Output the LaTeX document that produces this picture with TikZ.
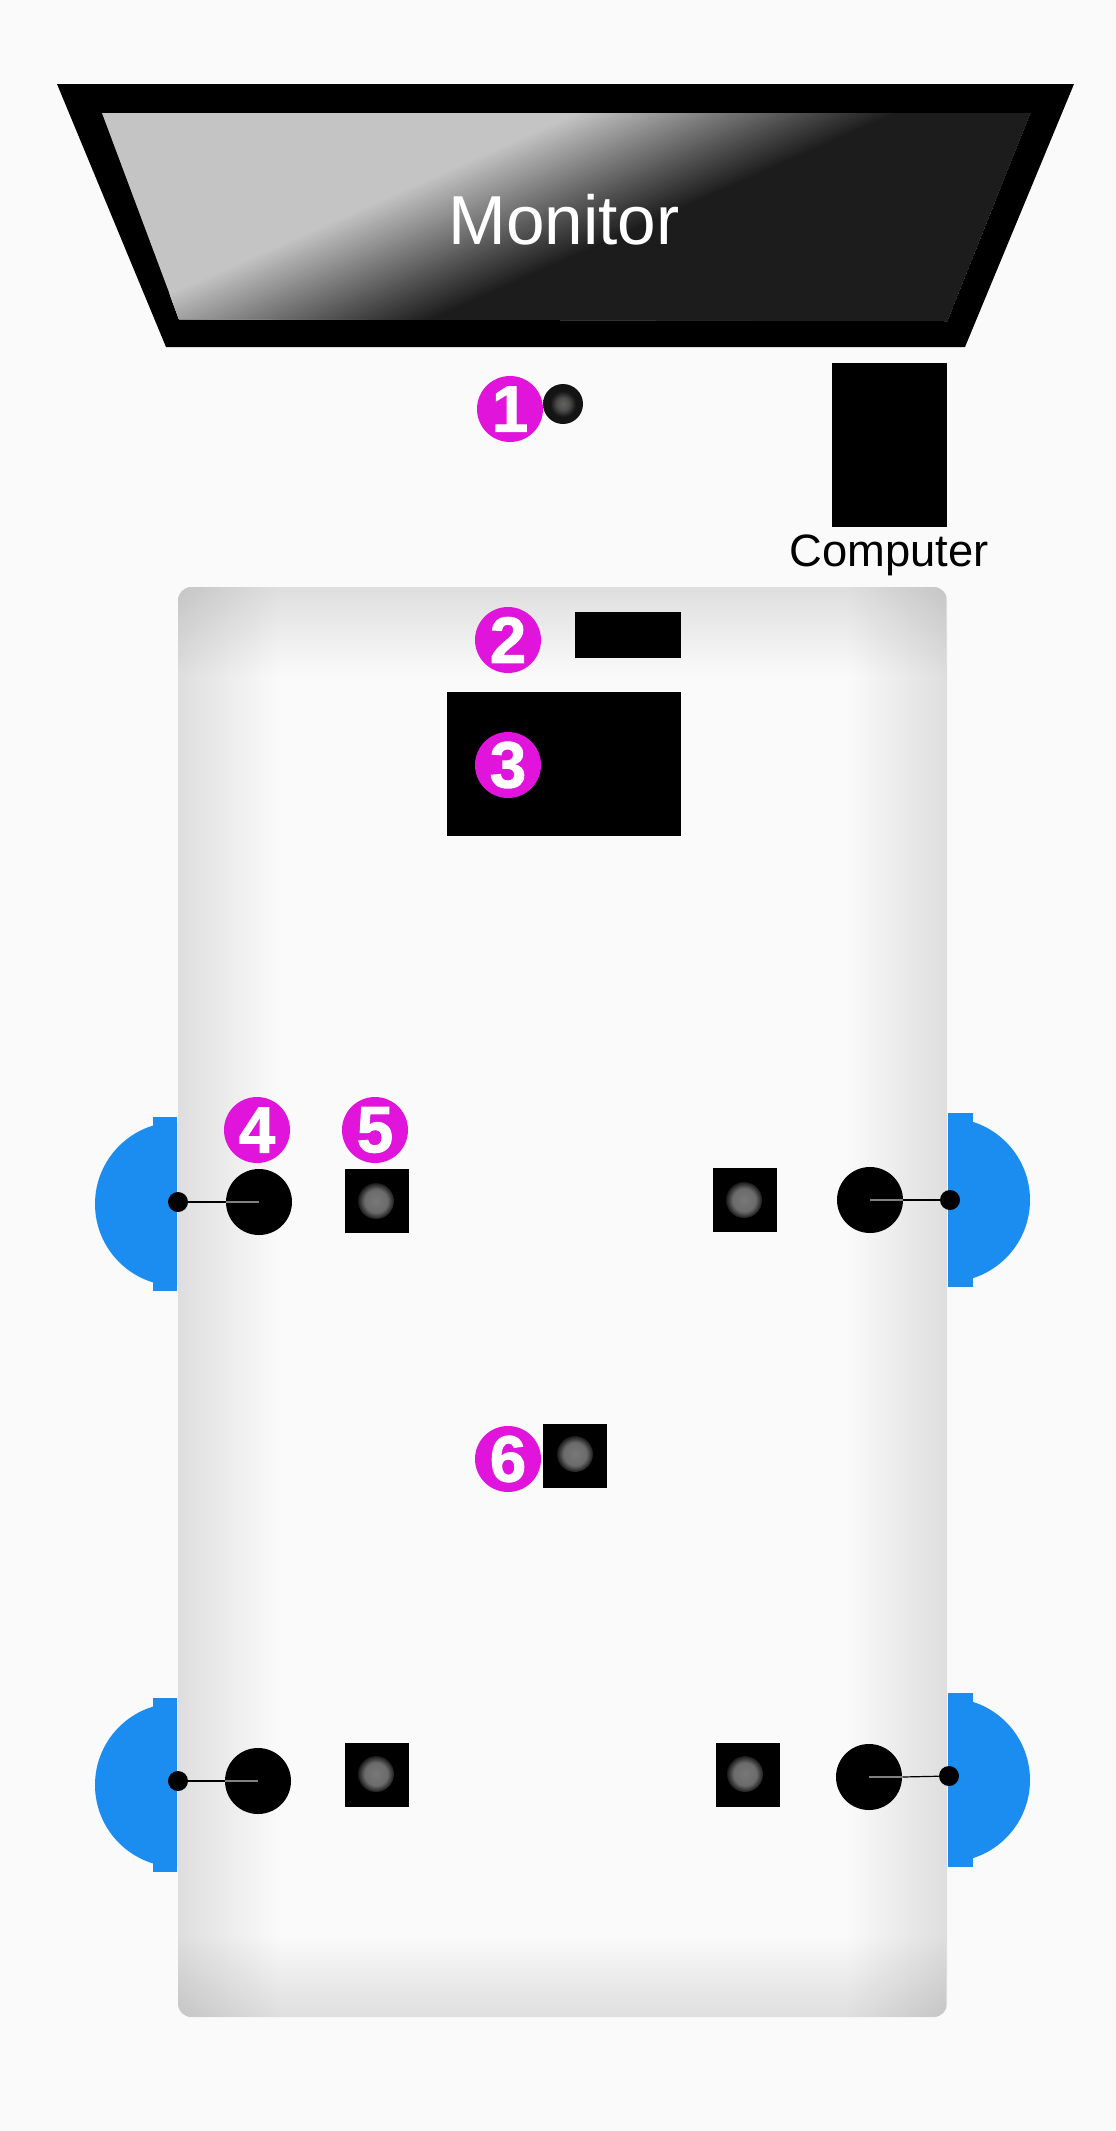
\documentclass[tikz,border=0pt]{standalone}
\usepackage{fontspec}
\setmainfont{Liberation Sans}
\newfontfamily\badgefont[FakeBold=1.6]{Liberation Sans Bold}
\usetikzlibrary{fadings}
\definecolor{bgc}{HTML}{FAFAFA}
\definecolor{magc}{HTML}{E014DA}
\definecolor{bluec}{HTML}{1B8DF0}
\definecolor{lightc}{HTML}{C4C4C4}
\definecolor{darkc}{HTML}{1C1C1C}
\pgfdeclareradialshading{lensshade}{\pgfpointorigin}{rgb(0bp)=(0.47,0.47,0.47);rgb(16bp)=(0.42,0.42,0.42);rgb(28bp)=(0,0,0);rgb(50bp)=(0,0,0)}
\pgfdeclareradialshading{camshade}{\pgfpointorigin}{rgb(0bp)=(0.38,0.4,0.38);rgb(8bp)=(0.3,0.3,0.3);rgb(16bp)=(0.08,0.08,0.08);rgb(50bp)=(0.06,0.06,0.06)}
\tikzset{
  badge/.style={circle,fill=magc,text=white,inner sep=0pt,minimum size=49.5pt,font=\badgefont\fontsize{49}{49}\selectfont},
  wheelhub/.style={circle,fill=black,inner sep=0pt,minimum size=49.5pt},
  axle/.style={circle,fill=black,inner sep=0pt,minimum size=15pt},
  sensorbox/.style={fill=black,inner sep=0pt,minimum size=48pt},
  lens/.style={circle,shading=lensshade,inner sep=0pt,minimum size=27pt},
  solidbox/.style={fill=black,inner sep=0pt},
  shaft/.style={draw=black,line width=0.9pt},
  shaftin/.style={draw=gray,line width=0.9pt},
  edgeband/.style={fill=black,fill opacity=0.12},
}
\newcommand\blueL[1]{%
  \begin{scope}\clip (90,#1-90) rectangle (177,#1+90);
    \fill[bluec] (177,#1) circle[radius=61.5pt];\end{scope}
  \fill[bluec] (153,#1-87) rectangle (177,#1+87);}
\newcommand\blueR[1]{%
  \begin{scope}\clip (948,#1-90) rectangle (1040,#1+90);
    \fill[bluec] (948,#1) circle[radius=61.5pt];\end{scope}
  \fill[bluec] (948,#1-87) rectangle (973,#1+87);}
\begin{document}
\begin{tikzpicture}[x=0.75pt,y=-0.75pt]
\useasboundingbox (0,0) rectangle (1116,2131);
\fill[bgc] (0,0) rectangle (1116,2131);
% monitor
\fill[black] (57,84) -- (1074,84) -- (965,347) -- (166,347) -- cycle;
\begin{scope}
  \clip (102,113) -- (1030,113) -- (947,321) -- (179,319) -- cycle;
  \fill[lightc] (0,0) rectangle (1116,400);
  \foreach \i in {0,...,50} {
    \pgfmathsetmacro\sv{-65+\i*2.6}
    \pgfmathsetmacro\pc{100-\i*2}
    \pgfmathsetmacro\ax{500+\sv*0.405-1500*0.914}
    \pgfmathsetmacro\ay{217+\sv*0.914+1500*0.405}
    \pgfmathsetmacro\bx{500+\sv*0.405+1500*0.914}
    \pgfmathsetmacro\by{217+\sv*0.914-1500*0.405}
    \fill[lightc!\pc!darkc] (\ax,\ay) -- (\bx,\by) -- (\bx+405,\by+914) -- (\ax+405,\ay+914) -- cycle;
  }
\end{scope}
\node[text=white,font=\fontsize{52}{60}\selectfont] (monitor) at (564,220) {Monitor};
% table
\begin{scope}
  \clip[rounded corners=10pt] (178,587) rectangle (947,2017);
  \fill[bgc] (178,587) rectangle (947,2017);
  \fill[edgeband,path fading=east] (168,587) rectangle (278,2017);
  \fill[edgeband,path fading=west] (847,587) rectangle (957,2017);
  \fill[edgeband,path fading=south] (178,577) rectangle (947,675);
  \fill[edgeband,path fading=north] (178,1935) rectangle (947,2027);
\end{scope}
% computer
\node[solidbox,minimum width=86.25pt,minimum height=123pt] (computer) at (889.5,445) {};
\node[font=\fontsize{34}{40}\selectfont] (computerlabel) at (889,555) {Computer};
% item 1
\node[circle,shading=camshade,inner sep=0pt,minimum size=30pt] (cam) at (563,404) {};
\node[badge] (b1) at (510,409) {1};
% items 2 and 3
\node[solidbox,minimum width=79.5pt,minimum height=34.5pt] (item2) at (628,635) {};
\node[solidbox,minimum width=175.5pt,minimum height=108pt] (item3) at (564,764) {};
\node[badge] (b2) at (508,640) {2};
\node[badge] (b3) at (508,765) {3};
% blue wheels
\blueL{1204}
\blueL{1785}
\blueR{1200}
\blueR{1780}
% hubs and shafts
\node[wheelhub] (h1) at (259,1202) {};
\node[axle] (a1) at (178,1202) {};
\node[wheelhub] (h2) at (870,1200) {};
\node[axle] (a2) at (950,1200) {};
\node[wheelhub] (h3) at (258,1781) {};
\node[axle] (a3) at (178,1781) {};
\node[wheelhub] (h4) at (869,1777) {};
\node[axle] (a4) at (949,1776) {};
\draw[shaft] (a1) -- (h1.west);
\draw[shaftin] (h1.west) -- (h1.center);
\draw[shaft] (a2) -- (h2.east);
\draw[shaftin] (h2.east) -- (h2.center);
\draw[shaft] (a3) -- (h3.west);
\draw[shaftin] (h3.west) -- (h3.center);
\draw[shaft] (a4) -- (h4.east);
\draw[shaftin] (h4.east) -- (h4.center);
% sensors
\node[sensorbox] (s1) at (377,1201) {};
\node[lens] (l1) at (376,1201) {};
\node[sensorbox] (s2) at (745,1200) {};
\node[lens] (l2) at (744,1200) {};
\node[sensorbox] (s3) at (377,1775) {};
\node[lens] (l3) at (376,1774) {};
\node[sensorbox] (s4) at (748,1775) {};
\node[lens] (l4) at (745,1774) {};
\node[sensorbox] (s5) at (575,1456) {};
\node[lens] (l5) at (575,1454) {};
% badges
\node[badge] (b4) at (257,1130) {4};
\node[badge] (b5) at (375,1130) {5};
\node[badge] (b6) at (508,1459) {6};
\end{tikzpicture}
\end{document}
